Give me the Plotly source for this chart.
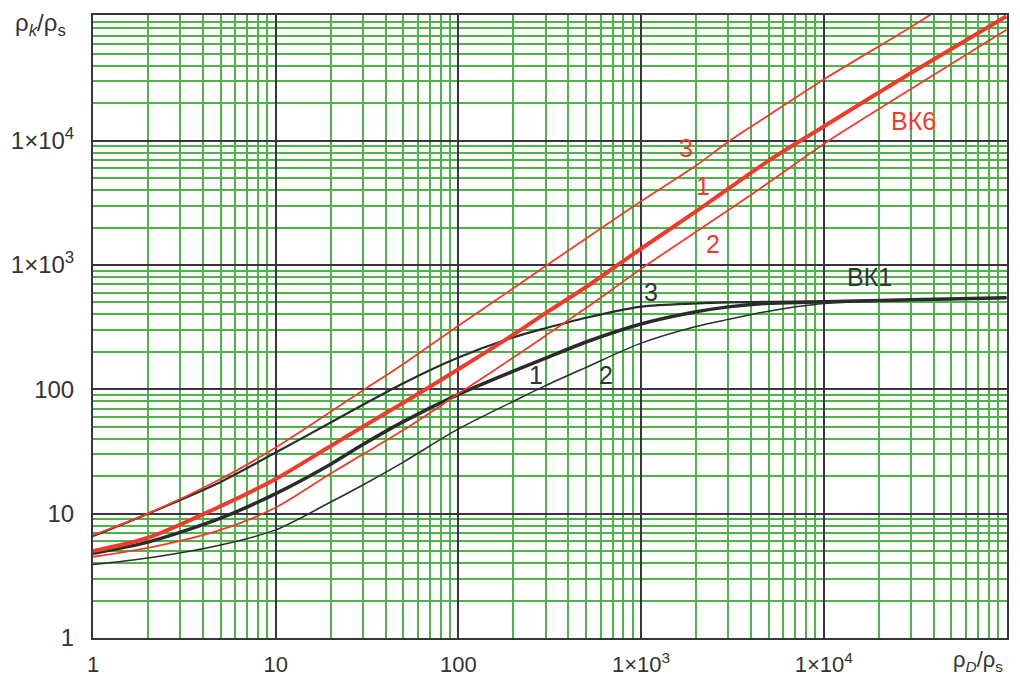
import math
import plotly.graph_objects as go

# ---- data ----
x_vals = [1, 2, 5, 10, 20, 30, 50, 100, 200, 300, 500, 1000, 2000, 3000, 5000, 10000, 30000, 100000]

# ВК6 (red) curves
bk6_1 = [5.0, 6.4, 11.5, 19, 35, 50, 78, 145, 275, 410, 665, 1350, 2700, 4100, 6900, 13000, 35000, 100000]
bk6_2 = [4.5, 5.3, 7.4, 11.2, 21, 30, 47, 92, 180, 270, 450, 930, 1850, 2750, 4600, 9400, 26000, 78000]
bk6_3 = [6.7, 10, 19, 34, 66, 98, 160, 325, 650, 980, 1630, 3250, 6300, 9800, 16000, 31000, 82000, 250000]

# ВК1 (black) curves
bk1_1 = [4.8, 5.9, 9.2, 14.5, 25, 36, 55, 91, 140, 178, 240, 335, 420, 460, 492, 505, 525, 545]
bk1_2 = [3.9, 4.4, 5.6, 7.4, 12.4, 17, 26, 48, 80, 107, 150, 235, 320, 365, 425, 490, 520, 540]
bk1_3 = [6.6, 10, 18, 31, 54, 75, 112, 180, 262, 310, 376, 462, 490, 500, 505, 510, 525, 545]

major_ticks = [1, 10, 100, 1000, 10000]
x_tick_text = ["1", "10", "100", "1×10<sup>3</sup>", "1×10<sup>4</sup>"]
y_tick_text = ["1", "10", "100", "1×10<sup>3</sup>", "1×10<sup>4</sup>"]
minor_ticks = [k * 10 ** d for d in range(0, 5) for k in range(2, 10)]

# curve labels: (text, x, y, colour)
labels = [
    ("ВК6", 30800, 14400, "red"),
    ("3", 1760, 8750, "red"),
    ("1", 2180, 4330, "red"),
    ("2", 2480, 1480, "red"),
    ("3", 1130, 608, "black"),
    ("1", 266, 130, "black"),
    ("2", 643, 130, "black"),
    ("ВК1", 17700, 802, "black"),
]

RED = "#ef3b2c"
BLACK = "#2b2b2b"
MAJOR = "#3a3340"
MINOR = "#4db447"
FONT = "Liberation Sans Narrow, Arial Narrow, Liberation Sans, Arial, sans-serif"

fig = go.Figure()

for ys, w in [(bk1_2, 1.5), (bk1_3, 2.2), (bk1_1, 3.5)]:
    fig.add_trace(go.Scatter(x=x_vals, y=ys, mode="lines",
                             line=dict(color=BLACK, width=w, shape="spline", smoothing=0.8),
                             showlegend=False, hoverinfo="skip"))
for ys, w in [(bk6_2, 1.8), (bk6_3, 1.8), (bk6_1, 4)]:
    fig.add_trace(go.Scatter(x=x_vals, y=ys, mode="lines",
                             line=dict(color=RED, width=w, shape="spline", smoothing=0.8),
                             showlegend=False, hoverinfo="skip"))

for text, lx, ly, c in labels:
    fig.add_annotation(x=math.log10(lx), y=math.log10(ly), xref="x", yref="y",
                       text=text, showarrow=False,
                       xanchor="center", yanchor="middle",
                       font=dict(family=FONT, size=25, color=RED if c == "red" else "#333333"))

fig.add_annotation(x=-0.057, y=0.985, xref="paper", yref="paper",
                   text="ρ<sub><i>k</i></sub>/ρ<sub>s</sub>", showarrow=False,
                   xanchor="center", yanchor="middle",
                   font=dict(family=FONT, size=24, color="#333333"))
fig.add_annotation(x=0.968, y=-0.037, xref="paper", yref="paper",
                   text="ρ<sub><i>D</i></sub>/ρ<sub>s</sub>", showarrow=False,
                   xanchor="center", yanchor="middle",
                   font=dict(family=FONT, size=22, color="#333333"))

axis_common = dict(
    type="log",
    tickmode="array",
    tickvals=major_ticks,
    showgrid=True, gridcolor=MAJOR, gridwidth=2,
    minor=dict(tickmode="array", tickvals=minor_ticks, showgrid=True,
               gridcolor=MINOR, gridwidth=1.5, ticks=""),
    showline=True, mirror=True, linecolor=MAJOR, linewidth=2,
    ticks="", zeroline=False, automargin=False,
)

fig.update_xaxes(range=[0, 5.003], ticktext=x_tick_text, ticklabelstandoff=6,
                 tickfont=dict(family=FONT, size=22, color="#333333"), **axis_common)
fig.update_yaxes(range=[0, 5.01], ticktext=y_tick_text, ticklabelstandoff=12,
                 tickfont=dict(family=FONT, size=24, color="#333333"), **axis_common)

# the page body has an 8px margin, so the figure is 8px smaller than the window
fig.update_layout(
    width=1012, height=668,
    margin=dict(l=85, r=13, t=7, b=38, autoexpand=False),
    paper_bgcolor="white", plot_bgcolor="white",
    showlegend=False,
)

fig.write_html("out.html")
